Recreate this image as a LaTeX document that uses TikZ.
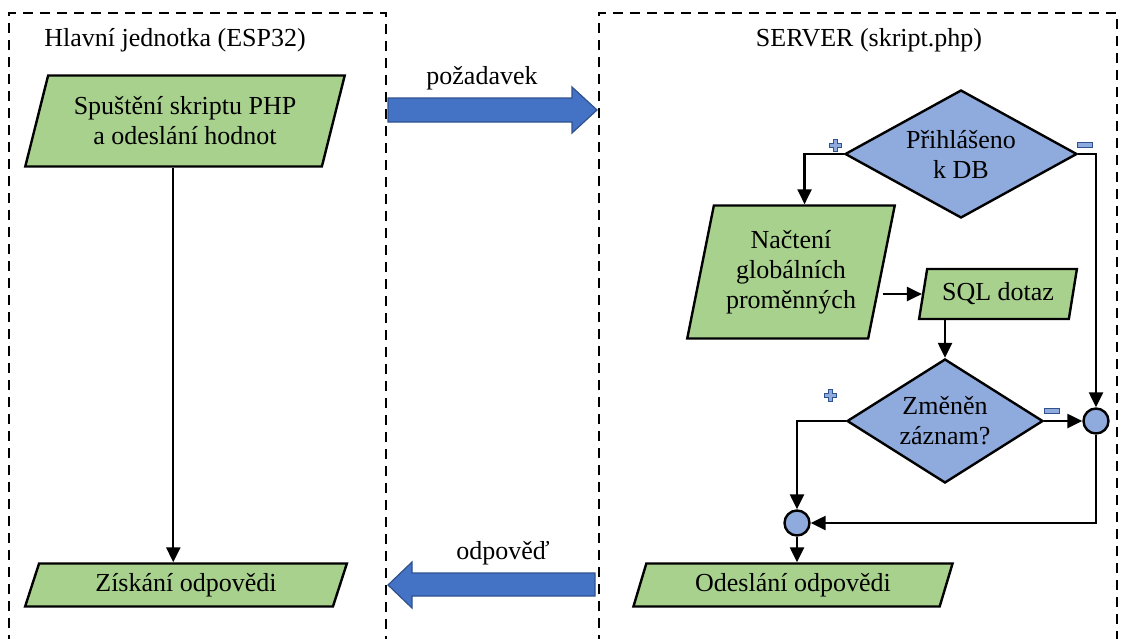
\documentclass[tikz,border=0pt]{standalone}
\usepackage{fontspec}
\setmainfont{Liberation Serif}
\usetikzlibrary{shapes.geometric,arrows.meta}

\definecolor{zelena}{HTML}{A9D18E}
\definecolor{modra}{HTML}{8FAADC}
\definecolor{tmodra}{HTML}{4472C4}
\definecolor{okraj}{HTML}{2F528F}

\tikzset{
  vstup/.style={trapezium, trapezium stretches=true, draw, line width=2.4pt,
    fill=zelena, align=center, inner sep=0pt, font=\fontsize{26}{30}\selectfont},
  rozhod/.style={diamond, draw, line width=2.4pt, fill=modra, align=center,
    inner sep=0pt, font=\fontsize{26}{30}\selectfont},
  spoj/.style={circle, draw, line width=2.4pt, fill=modra, minimum size=25pt, inner sep=0pt},
  sipka/.style={line width=2.4pt, -{Triangle[length=15pt,width=14pt]}},
  ramec/.style={line width=2.4pt, dash pattern=on 10pt off 7pt},
  blok/.style={fill=tmodra, draw=okraj, line width=1.2pt},
  znak/.style={fill=modra, draw=okraj, line width=1pt},
  popis/.style={font=\fontsize{26}{30}\selectfont}
}

\newcommand{\znakplus}[1]{\filldraw[znak, shift={#1}] (-2,-6) -- (2,-6) -- (2,-2) -- (6,-2)
  -- (6,2) -- (2,2) -- (2,6) -- (-2,6) -- (-2,2) -- (-6,2) -- (-6,-2) -- (-2,-2) -- cycle;}
\newcommand{\znakminus}[1]{\filldraw[znak, shift={#1}] (-7.5,-2.5) rectangle (7.5,2.5);}

\begin{document}
\begin{tikzpicture}[x=1pt, y=-1pt]
  \useasboundingbox (0,0) rectangle (1125,638);

  % ramce
  \draw[ramec] (9,645) -- (9,13) -- (386,13) -- (386,645);
  \draw[ramec] (599,645) -- (599,13) -- (1117,13) -- (1117,645);
  \node[popis] (hlavni) at (175,40) {Hlavní jednotka (ESP32)};
  \node[popis] (server) at (869,40) {SERVER (skript.php)};

  % hlavni jednotka
  \node[vstup, trapezium left angle=69, trapezium right angle=111,
    minimum width=320pt, minimum height=91pt] (spusteni) at (185,121)
    {Spuštění skriptu PHP\\a odeslání hodnot};
  \node[vstup, trapezium left angle=70, trapezium right angle=110,
    minimum width=322pt, minimum height=43pt] (ziskani) at (186,585) {Získání odpovědi};

  % server
  \node[rozhod, aspect=1.8, minimum width=232pt, minimum height=128pt]
    (prihlaseno) at (961,154) {Přihlášeno\\k DB};
  \node[vstup, trapezium left angle=75, trapezium right angle=105,
    minimum width=208pt, minimum height=133pt] (nacteni) at (791,272)
    {Načtení\\globálních\\proměnných};
  \node[vstup, trapezium left angle=74, trapezium right angle=106,
    minimum width=158pt, minimum height=50pt] (sql) at (998,294) {SQL dotaz};
  \node[rozhod, aspect=1.58, minimum width=196pt, minimum height=124pt]
    (zmenen) at (945,421) {Změněn\\záznam?};
  \node[spoj] (spoj1) at (1096,421) {};
  \node[spoj] (spoj2) at (797,523) {};
  \node[vstup, trapezium left angle=70, trapezium right angle=110,
    minimum width=320pt, minimum height=43pt] (odeslani) at (793,585) {Odeslání odpovědi};

  % pozadavek a odpoved
  \filldraw[blok] (388,98) -- (572,98) -- (572,87) -- (597,110) -- (572,133)
    -- (572,122) -- (388,122) -- cycle;
  \node[popis] (pozadavek) at (482,78) {požadavek};
  \filldraw[blok] (595,573) -- (412,573) -- (412,562) -- (388,585) -- (412,608)
    -- (412,596) -- (595,596) -- cycle;
  \node[popis] (odpoved) at (503,553) {odpověď};

  % spoje
  \draw[sipka] (spusteni.bottom side) -- (spusteni.bottom side |- ziskani.north);
  \draw[sipka] (prihlaseno.west) -| (nacteni.top side);
  \draw[sipka] (prihlaseno.east) -| (spoj1.north);
  \draw[sipka] (nacteni.east |- sql.west) -- (sql.west);
  \draw[sipka] (sql.south -| zmenen.north) -- (zmenen.north);
  \draw[sipka] (zmenen.east) -- (spoj1.west);
  \draw[sipka] (zmenen.west) -| (spoj2.north);
  \draw[sipka] (spoj1.south) |- (spoj2.east);
  \draw[sipka] (spoj2.south) -- (spoj2.south |- odeslani.north);

  % znamenka
  \znakplus{(835,145)}
  \znakminus{(1085,145)}
  \znakplus{(830,395)}
  \znakminus{(1052,411)}
\end{tikzpicture}
\end{document}
